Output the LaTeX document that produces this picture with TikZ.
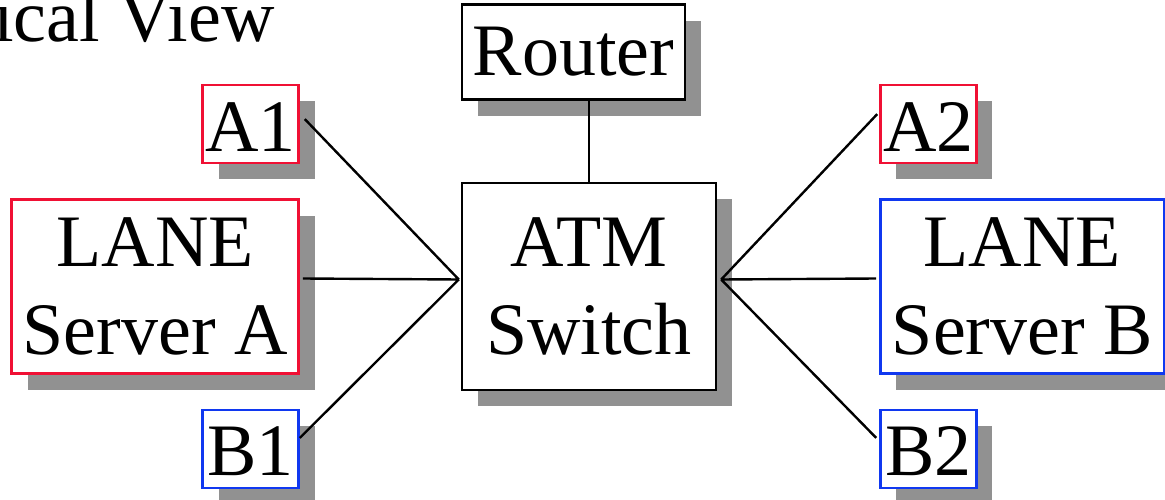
\documentclass[tikz,border=0pt]{standalone}
\usepackage{fontspec}
\setmainfont{Liberation Serif}
\usetikzlibrary{positioning, shadows}
\definecolor{lanered}{RGB}{240,16,52}
\definecolor{laneblue}{RGB}{16,56,240}
\definecolor{shadowgray}{RGB}{145,145,145}
\tikzset{
    x=1pt, y=1pt, % one unit is one pixel of the sketch
    every node/.style={font=\fontsize{74}{88}\selectfont},
    box/.style={ % Sets the properties for each box
        draw,
        fill=white,
        line width=2.4pt,
        inner sep=0pt,
        align=center,
        drop shadow={shadow xshift=16pt, shadow yshift=-16pt, fill=shadowgray, opacity=1}
    },
    port/.style={box, minimum width=96pt, minimum height=78pt, text height=54pt}, % small LEC boxes
    server/.style={box, minimum width=287pt, minimum height=174pt}, % LANE servers
    link/.style={draw, line width=2.4pt} % plain connections
}

\begin{document}
\begin{tikzpicture}
    \useasboundingbox (0,0) rectangle (1165,-500);
    \clip (0,0) rectangle (1165,-500);
    \node[anchor=base east] (title) at (278,-42) {Physical View};
    \node[box, minimum width=254pt, minimum height=207pt] (atm) at (589,-286.5) {ATM\\Switch};
    \node[box, minimum width=223pt, minimum height=95pt, above right=81pt and 0pt of atm.north west] (router) {Router};
    \node[server, draw=lanered, left=161pt of atm]              (laneA) {LANE\\Server A};
    \node[server, draw=laneblue, minimum width=284pt, right=162pt of atm] (laneB) {LANE\\Server B};
    \node[port, draw=lanered, above left=34pt and 0pt of laneA.north east]   (a1) {A1};
    \node[port, draw=laneblue, below left=34pt and 0pt of laneA.south east]  (b1) {B1};
    \node[port, draw=lanered, above right=34pt and 0pt of laneB.north west]  (a2) {A2};
    \node[port, draw=laneblue, below right=34pt and 0pt of laneB.south west] (b2) {B2};
    \coordinate (hubW) at ([xshift=-2pt, yshift=7pt]atm.west);
    \coordinate (hubE) at ([xshift=4pt, yshift=7pt]atm.east);
    \draw[link] (atm.north) -- (atm.north |- router.south);
    \draw[link] ([xshift=5pt, yshift=5pt]a1.east)    -- (hubW)
                ([xshift=3pt, yshift=8pt]laneA.east) -- (hubW)
                ([yshift=11pt]b1.east)               -- (hubW);
    \draw[link] ([xshift=-2pt, yshift=10pt]a2.west)  -- (hubE)
                ([xshift=-3pt, yshift=8pt]laneB.west) -- (hubE)
                ([xshift=-3pt, yshift=11pt]b2.west)  -- (hubE);
\end{tikzpicture}
\end{document}
